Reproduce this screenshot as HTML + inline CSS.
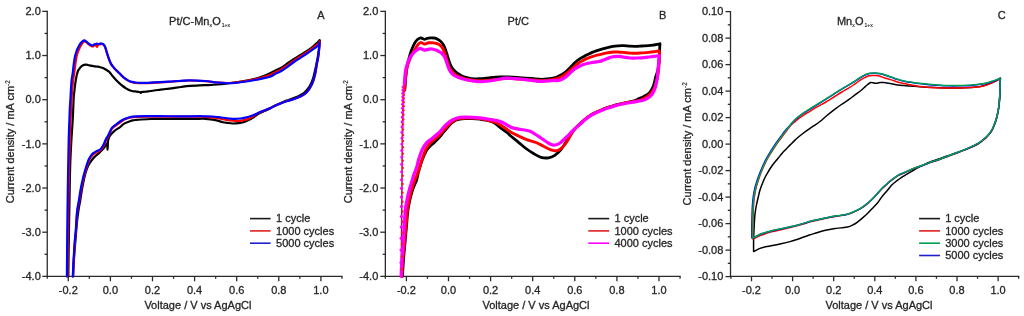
<!DOCTYPE html>
<html><head><meta charset="utf-8"><style>
html,body{margin:0;padding:0;background:#fff;}
body{width:1024px;height:316px;overflow:hidden;}
svg{display:block;will-change:transform;}
.t{font-family:"Liberation Sans", sans-serif;font-size:11px;fill:#262626;stroke:#262626;stroke-width:0.3px;}
.s{font-family:"Liberation Sans", sans-serif;font-size:6.5px;fill:#262626;stroke:#262626;stroke-width:0.15px;}
.u{font-family:"Liberation Sans", sans-serif;font-size:5px;fill:#262626;stroke:#262626;stroke-width:0.15px;}
</style></head><body>
<svg width="1024" height="316" viewBox="0 0 1024 316">
<line x1="47.25" y1="10.76" x2="47.25" y2="276.90" stroke="#2b2b2b" stroke-width="1.3"/>
<line x1="46.65" y1="276.3" x2="342.55" y2="276.3" stroke="#2b2b2b" stroke-width="1.3"/>
<line x1="42.25" y1="11.36" x2="47.25" y2="11.36" stroke="#2b2b2b" stroke-width="1.3"/>
<line x1="42.25" y1="55.53" x2="47.25" y2="55.53" stroke="#2b2b2b" stroke-width="1.3"/>
<line x1="42.25" y1="99.7" x2="47.25" y2="99.7" stroke="#2b2b2b" stroke-width="1.3"/>
<line x1="42.25" y1="143.87" x2="47.25" y2="143.87" stroke="#2b2b2b" stroke-width="1.3"/>
<line x1="42.25" y1="188.04" x2="47.25" y2="188.04" stroke="#2b2b2b" stroke-width="1.3"/>
<line x1="42.25" y1="232.21" x2="47.25" y2="232.21" stroke="#2b2b2b" stroke-width="1.3"/>
<line x1="42.25" y1="276.38" x2="47.25" y2="276.38" stroke="#2b2b2b" stroke-width="1.3"/>
<line x1="44.55" y1="33.45" x2="47.25" y2="33.45" stroke="#2b2b2b" stroke-width="1.3"/>
<line x1="44.55" y1="77.62" x2="47.25" y2="77.62" stroke="#2b2b2b" stroke-width="1.3"/>
<line x1="44.55" y1="121.78" x2="47.25" y2="121.78" stroke="#2b2b2b" stroke-width="1.3"/>
<line x1="44.55" y1="165.95" x2="47.25" y2="165.95" stroke="#2b2b2b" stroke-width="1.3"/>
<line x1="44.55" y1="210.12" x2="47.25" y2="210.12" stroke="#2b2b2b" stroke-width="1.3"/>
<line x1="44.55" y1="254.3" x2="47.25" y2="254.3" stroke="#2b2b2b" stroke-width="1.3"/>
<line x1="68.3" y1="276.3" x2="68.3" y2="281.30" stroke="#2b2b2b" stroke-width="1.3"/>
<line x1="110.4" y1="276.3" x2="110.4" y2="281.30" stroke="#2b2b2b" stroke-width="1.3"/>
<line x1="152.5" y1="276.3" x2="152.5" y2="281.30" stroke="#2b2b2b" stroke-width="1.3"/>
<line x1="194.6" y1="276.3" x2="194.6" y2="281.30" stroke="#2b2b2b" stroke-width="1.3"/>
<line x1="236.7" y1="276.3" x2="236.7" y2="281.30" stroke="#2b2b2b" stroke-width="1.3"/>
<line x1="278.8" y1="276.3" x2="278.8" y2="281.30" stroke="#2b2b2b" stroke-width="1.3"/>
<line x1="320.9" y1="276.3" x2="320.9" y2="281.30" stroke="#2b2b2b" stroke-width="1.3"/>
<line x1="47.25" y1="276.3" x2="47.25" y2="278.80" stroke="#2b2b2b" stroke-width="1.3"/>
<line x1="89.35" y1="276.3" x2="89.35" y2="278.80" stroke="#2b2b2b" stroke-width="1.3"/>
<line x1="131.45" y1="276.3" x2="131.45" y2="278.80" stroke="#2b2b2b" stroke-width="1.3"/>
<line x1="173.55" y1="276.3" x2="173.55" y2="278.80" stroke="#2b2b2b" stroke-width="1.3"/>
<line x1="215.65" y1="276.3" x2="215.65" y2="278.80" stroke="#2b2b2b" stroke-width="1.3"/>
<line x1="257.75" y1="276.3" x2="257.75" y2="278.80" stroke="#2b2b2b" stroke-width="1.3"/>
<line x1="299.85" y1="276.3" x2="299.85" y2="278.80" stroke="#2b2b2b" stroke-width="1.3"/>
<line x1="341.95" y1="276.3" x2="341.95" y2="278.80" stroke="#2b2b2b" stroke-width="1.3"/>
<text x="40.8" y="15.06" text-anchor="end" class="t">2.0</text>
<text x="40.8" y="59.23" text-anchor="end" class="t">1.0</text>
<text x="40.8" y="103.40" text-anchor="end" class="t">0.0</text>
<text x="40.8" y="147.57" text-anchor="end" class="t">-1.0</text>
<text x="40.8" y="191.74" text-anchor="end" class="t">-2.0</text>
<text x="40.8" y="235.91" text-anchor="end" class="t">-3.0</text>
<text x="40.8" y="280.08" text-anchor="end" class="t">-4.0</text>
<text x="68.30" y="293.6" text-anchor="middle" class="t">-0.2</text>
<text x="110.40" y="293.6" text-anchor="middle" class="t">0.0</text>
<text x="152.50" y="293.6" text-anchor="middle" class="t">0.2</text>
<text x="194.60" y="293.6" text-anchor="middle" class="t">0.4</text>
<text x="236.70" y="293.6" text-anchor="middle" class="t">0.6</text>
<text x="278.80" y="293.6" text-anchor="middle" class="t">0.8</text>
<text x="320.90" y="293.6" text-anchor="middle" class="t">1.0</text>
<line x1="385.35" y1="10.76" x2="385.35" y2="276.90" stroke="#2b2b2b" stroke-width="1.3"/>
<line x1="384.75" y1="276.3" x2="680.65" y2="276.3" stroke="#2b2b2b" stroke-width="1.3"/>
<line x1="380.35" y1="11.36" x2="385.35" y2="11.36" stroke="#2b2b2b" stroke-width="1.3"/>
<line x1="380.35" y1="55.53" x2="385.35" y2="55.53" stroke="#2b2b2b" stroke-width="1.3"/>
<line x1="380.35" y1="99.7" x2="385.35" y2="99.7" stroke="#2b2b2b" stroke-width="1.3"/>
<line x1="380.35" y1="143.87" x2="385.35" y2="143.87" stroke="#2b2b2b" stroke-width="1.3"/>
<line x1="380.35" y1="188.04" x2="385.35" y2="188.04" stroke="#2b2b2b" stroke-width="1.3"/>
<line x1="380.35" y1="232.21" x2="385.35" y2="232.21" stroke="#2b2b2b" stroke-width="1.3"/>
<line x1="380.35" y1="276.38" x2="385.35" y2="276.38" stroke="#2b2b2b" stroke-width="1.3"/>
<line x1="382.65" y1="33.45" x2="385.35" y2="33.45" stroke="#2b2b2b" stroke-width="1.3"/>
<line x1="382.65" y1="77.62" x2="385.35" y2="77.62" stroke="#2b2b2b" stroke-width="1.3"/>
<line x1="382.65" y1="121.78" x2="385.35" y2="121.78" stroke="#2b2b2b" stroke-width="1.3"/>
<line x1="382.65" y1="165.95" x2="385.35" y2="165.95" stroke="#2b2b2b" stroke-width="1.3"/>
<line x1="382.65" y1="210.12" x2="385.35" y2="210.12" stroke="#2b2b2b" stroke-width="1.3"/>
<line x1="382.65" y1="254.3" x2="385.35" y2="254.3" stroke="#2b2b2b" stroke-width="1.3"/>
<line x1="406.4" y1="276.3" x2="406.4" y2="281.30" stroke="#2b2b2b" stroke-width="1.3"/>
<line x1="448.5" y1="276.3" x2="448.5" y2="281.30" stroke="#2b2b2b" stroke-width="1.3"/>
<line x1="490.6" y1="276.3" x2="490.6" y2="281.30" stroke="#2b2b2b" stroke-width="1.3"/>
<line x1="532.7" y1="276.3" x2="532.7" y2="281.30" stroke="#2b2b2b" stroke-width="1.3"/>
<line x1="574.8" y1="276.3" x2="574.8" y2="281.30" stroke="#2b2b2b" stroke-width="1.3"/>
<line x1="616.9" y1="276.3" x2="616.9" y2="281.30" stroke="#2b2b2b" stroke-width="1.3"/>
<line x1="659.0" y1="276.3" x2="659.0" y2="281.30" stroke="#2b2b2b" stroke-width="1.3"/>
<line x1="385.35" y1="276.3" x2="385.35" y2="278.80" stroke="#2b2b2b" stroke-width="1.3"/>
<line x1="427.45" y1="276.3" x2="427.45" y2="278.80" stroke="#2b2b2b" stroke-width="1.3"/>
<line x1="469.55" y1="276.3" x2="469.55" y2="278.80" stroke="#2b2b2b" stroke-width="1.3"/>
<line x1="511.65" y1="276.3" x2="511.65" y2="278.80" stroke="#2b2b2b" stroke-width="1.3"/>
<line x1="553.75" y1="276.3" x2="553.75" y2="278.80" stroke="#2b2b2b" stroke-width="1.3"/>
<line x1="595.85" y1="276.3" x2="595.85" y2="278.80" stroke="#2b2b2b" stroke-width="1.3"/>
<line x1="637.95" y1="276.3" x2="637.95" y2="278.80" stroke="#2b2b2b" stroke-width="1.3"/>
<line x1="680.05" y1="276.3" x2="680.05" y2="278.80" stroke="#2b2b2b" stroke-width="1.3"/>
<text x="378.3" y="15.06" text-anchor="end" class="t">2.0</text>
<text x="378.3" y="59.23" text-anchor="end" class="t">1.0</text>
<text x="378.3" y="103.40" text-anchor="end" class="t">0.0</text>
<text x="378.3" y="147.57" text-anchor="end" class="t">-1.0</text>
<text x="378.3" y="191.74" text-anchor="end" class="t">-2.0</text>
<text x="378.3" y="235.91" text-anchor="end" class="t">-3.0</text>
<text x="378.3" y="280.08" text-anchor="end" class="t">-4.0</text>
<text x="406.40" y="293.6" text-anchor="middle" class="t">-0.2</text>
<text x="448.50" y="293.6" text-anchor="middle" class="t">0.0</text>
<text x="490.60" y="293.6" text-anchor="middle" class="t">0.2</text>
<text x="532.70" y="293.6" text-anchor="middle" class="t">0.4</text>
<text x="574.80" y="293.6" text-anchor="middle" class="t">0.6</text>
<text x="616.90" y="293.6" text-anchor="middle" class="t">0.8</text>
<text x="659.00" y="293.6" text-anchor="middle" class="t">1.0</text>
<line x1="730.5" y1="11.00" x2="730.5" y2="276.90" stroke="#2b2b2b" stroke-width="1.3"/>
<line x1="729.90" y1="276.3" x2="1019.25" y2="276.3" stroke="#2b2b2b" stroke-width="1.3"/>
<line x1="725.50" y1="11.6" x2="730.5" y2="11.6" stroke="#2b2b2b" stroke-width="1.3"/>
<line x1="725.50" y1="38.1" x2="730.5" y2="38.1" stroke="#2b2b2b" stroke-width="1.3"/>
<line x1="725.50" y1="64.6" x2="730.5" y2="64.6" stroke="#2b2b2b" stroke-width="1.3"/>
<line x1="725.50" y1="91.1" x2="730.5" y2="91.1" stroke="#2b2b2b" stroke-width="1.3"/>
<line x1="725.50" y1="117.6" x2="730.5" y2="117.6" stroke="#2b2b2b" stroke-width="1.3"/>
<line x1="725.50" y1="144.1" x2="730.5" y2="144.1" stroke="#2b2b2b" stroke-width="1.3"/>
<line x1="725.50" y1="170.6" x2="730.5" y2="170.6" stroke="#2b2b2b" stroke-width="1.3"/>
<line x1="725.50" y1="197.1" x2="730.5" y2="197.1" stroke="#2b2b2b" stroke-width="1.3"/>
<line x1="725.50" y1="223.6" x2="730.5" y2="223.6" stroke="#2b2b2b" stroke-width="1.3"/>
<line x1="725.50" y1="250.1" x2="730.5" y2="250.1" stroke="#2b2b2b" stroke-width="1.3"/>
<line x1="725.50" y1="276.6" x2="730.5" y2="276.6" stroke="#2b2b2b" stroke-width="1.3"/>
<line x1="727.80" y1="24.85" x2="730.5" y2="24.85" stroke="#2b2b2b" stroke-width="1.3"/>
<line x1="727.80" y1="51.35" x2="730.5" y2="51.35" stroke="#2b2b2b" stroke-width="1.3"/>
<line x1="727.80" y1="77.85" x2="730.5" y2="77.85" stroke="#2b2b2b" stroke-width="1.3"/>
<line x1="727.80" y1="104.35" x2="730.5" y2="104.35" stroke="#2b2b2b" stroke-width="1.3"/>
<line x1="727.80" y1="130.85" x2="730.5" y2="130.85" stroke="#2b2b2b" stroke-width="1.3"/>
<line x1="727.80" y1="157.35" x2="730.5" y2="157.35" stroke="#2b2b2b" stroke-width="1.3"/>
<line x1="727.80" y1="183.85" x2="730.5" y2="183.85" stroke="#2b2b2b" stroke-width="1.3"/>
<line x1="727.80" y1="210.35" x2="730.5" y2="210.35" stroke="#2b2b2b" stroke-width="1.3"/>
<line x1="727.80" y1="236.85" x2="730.5" y2="236.85" stroke="#2b2b2b" stroke-width="1.3"/>
<line x1="727.80" y1="263.35" x2="730.5" y2="263.35" stroke="#2b2b2b" stroke-width="1.3"/>
<line x1="751.5" y1="276.3" x2="751.5" y2="281.30" stroke="#2b2b2b" stroke-width="1.3"/>
<line x1="792.6" y1="276.3" x2="792.6" y2="281.30" stroke="#2b2b2b" stroke-width="1.3"/>
<line x1="833.7" y1="276.3" x2="833.7" y2="281.30" stroke="#2b2b2b" stroke-width="1.3"/>
<line x1="874.8" y1="276.3" x2="874.8" y2="281.30" stroke="#2b2b2b" stroke-width="1.3"/>
<line x1="915.9" y1="276.3" x2="915.9" y2="281.30" stroke="#2b2b2b" stroke-width="1.3"/>
<line x1="957.0" y1="276.3" x2="957.0" y2="281.30" stroke="#2b2b2b" stroke-width="1.3"/>
<line x1="998.1" y1="276.3" x2="998.1" y2="281.30" stroke="#2b2b2b" stroke-width="1.3"/>
<line x1="730.95" y1="276.3" x2="730.95" y2="278.80" stroke="#2b2b2b" stroke-width="1.3"/>
<line x1="772.05" y1="276.3" x2="772.05" y2="278.80" stroke="#2b2b2b" stroke-width="1.3"/>
<line x1="813.15" y1="276.3" x2="813.15" y2="278.80" stroke="#2b2b2b" stroke-width="1.3"/>
<line x1="854.25" y1="276.3" x2="854.25" y2="278.80" stroke="#2b2b2b" stroke-width="1.3"/>
<line x1="895.35" y1="276.3" x2="895.35" y2="278.80" stroke="#2b2b2b" stroke-width="1.3"/>
<line x1="936.45" y1="276.3" x2="936.45" y2="278.80" stroke="#2b2b2b" stroke-width="1.3"/>
<line x1="977.55" y1="276.3" x2="977.55" y2="278.80" stroke="#2b2b2b" stroke-width="1.3"/>
<line x1="1018.65" y1="276.3" x2="1018.65" y2="278.80" stroke="#2b2b2b" stroke-width="1.3"/>
<text x="723.3" y="15.30" text-anchor="end" class="t">0.10</text>
<text x="723.3" y="41.80" text-anchor="end" class="t">0.08</text>
<text x="723.3" y="68.30" text-anchor="end" class="t">0.06</text>
<text x="723.3" y="94.80" text-anchor="end" class="t">0.04</text>
<text x="723.3" y="121.30" text-anchor="end" class="t">0.02</text>
<text x="723.3" y="147.80" text-anchor="end" class="t">0.00</text>
<text x="723.3" y="174.30" text-anchor="end" class="t">-0.02</text>
<text x="723.3" y="200.80" text-anchor="end" class="t">-0.04</text>
<text x="723.3" y="227.30" text-anchor="end" class="t">-0.06</text>
<text x="723.3" y="253.80" text-anchor="end" class="t">-0.08</text>
<text x="723.3" y="280.30" text-anchor="end" class="t">-0.10</text>
<text x="751.50" y="293.6" text-anchor="middle" class="t">-0.2</text>
<text x="792.60" y="293.6" text-anchor="middle" class="t">0.0</text>
<text x="833.70" y="293.6" text-anchor="middle" class="t">0.2</text>
<text x="874.80" y="293.6" text-anchor="middle" class="t">0.4</text>
<text x="915.90" y="293.6" text-anchor="middle" class="t">0.6</text>
<text x="957.00" y="293.6" text-anchor="middle" class="t">0.8</text>
<text x="998.10" y="293.6" text-anchor="middle" class="t">1.0</text>
<path d="M68.30,276.40 C68.38,270.33 68.60,252.73 68.80,240.00 C69.00,227.27 69.27,212.50 69.50,200.00 C69.73,187.50 69.88,175.00 70.20,165.00 C70.52,155.00 70.98,147.50 71.40,140.00 C71.82,132.50 72.32,127.00 72.70,120.00 C73.08,113.00 73.40,103.00 73.70,98.00 C74.00,93.00 74.23,92.45 74.50,90.00 C74.77,87.55 75.02,85.30 75.30,83.30 C75.58,81.30 75.93,79.47 76.20,78.00 C76.47,76.53 76.58,75.72 76.90,74.50 C77.22,73.28 77.68,71.65 78.10,70.70 C78.52,69.75 79.00,69.37 79.40,68.80 C79.80,68.23 79.97,67.83 80.50,67.30 C81.03,66.77 81.73,66.05 82.60,65.60 C83.47,65.15 84.80,64.70 85.70,64.60 C86.60,64.50 87.15,64.83 88.00,65.00 C88.85,65.17 89.70,65.37 90.80,65.60 C91.90,65.83 93.40,66.23 94.60,66.40 C95.80,66.57 97.18,66.50 98.00,66.60 C98.82,66.70 98.67,66.77 99.50,67.00 C100.33,67.23 101.96,67.58 103.00,68.00 C104.04,68.42 104.75,68.90 105.75,69.50 C106.75,70.10 108.29,71.07 109.00,71.60 C109.71,72.13 109.33,71.88 110.00,72.70 C110.67,73.52 111.95,75.23 113.00,76.50 C114.05,77.77 115.22,79.15 116.30,80.30 C117.38,81.45 118.43,82.45 119.50,83.40 C120.57,84.35 121.62,85.18 122.70,86.00 C123.78,86.82 124.95,87.62 126.00,88.30 C127.05,88.98 128.00,89.65 129.00,90.10 C130.00,90.55 130.95,90.78 132.00,91.00 C133.05,91.22 134.30,91.27 135.30,91.40 C136.30,91.53 137.15,91.65 138.00,91.80 C138.85,91.95 139.90,92.10 140.40,92.30 C140.90,92.50 140.82,93.05 141.00,93.00 C141.18,92.95 141.00,92.20 141.50,92.00 C142.00,91.80 142.92,91.90 144.00,91.80 C145.08,91.70 146.33,91.62 148.00,91.40 C149.67,91.18 151.90,90.78 154.00,90.50 C156.10,90.22 158.43,89.97 160.60,89.70 C162.77,89.43 164.88,89.17 167.00,88.90 C169.12,88.63 170.97,88.42 173.30,88.10 C175.63,87.78 178.22,87.37 181.00,87.00 C183.78,86.63 186.00,86.20 190.00,85.90 C194.00,85.60 200.42,85.43 205.00,85.20 C209.58,84.97 213.33,84.87 217.50,84.50 C221.67,84.13 225.83,83.54 230.00,83.00 C234.17,82.46 238.33,81.96 242.50,81.25 C246.67,80.54 251.58,79.58 255.00,78.75 C258.42,77.92 260.50,77.16 263.00,76.25 C265.50,75.34 267.92,74.26 270.00,73.30 C272.08,72.34 273.60,71.45 275.50,70.50 C277.40,69.55 279.32,68.85 281.40,67.60 C283.48,66.35 285.90,64.43 288.00,63.00 C290.10,61.57 291.92,60.33 294.00,59.00 C296.08,57.67 298.33,56.37 300.50,55.00 C302.67,53.63 304.92,52.22 307.00,50.80 C309.08,49.38 311.33,47.80 313.00,46.50 C314.67,45.20 315.88,44.05 317.00,43.00 C318.12,41.95 319.27,40.28 319.70,40.20 C320.13,40.12 319.75,40.87 319.60,42.50 C319.45,44.13 319.10,47.58 318.80,50.00 C318.50,52.42 318.17,54.83 317.80,57.00 C317.43,59.17 316.97,61.17 316.60,63.00 C316.23,64.83 315.97,66.33 315.60,68.00 C315.23,69.67 314.83,71.22 314.40,73.00 C313.97,74.78 313.52,77.03 313.00,78.70 C312.48,80.37 311.88,81.70 311.30,83.00 C310.72,84.30 310.13,85.47 309.50,86.50 C308.87,87.53 308.22,88.32 307.50,89.20 C306.78,90.08 306.03,91.00 305.20,91.80 C304.37,92.60 303.53,93.32 302.50,94.00 C301.47,94.68 300.25,95.30 299.00,95.90 C297.75,96.50 296.33,97.08 295.00,97.60 C293.67,98.12 292.42,98.50 291.00,99.00 C289.58,99.50 288.00,100.03 286.50,100.60 C285.00,101.17 283.42,101.80 282.00,102.40 C280.58,103.00 279.33,103.55 278.00,104.20 C276.67,104.85 275.33,105.58 274.00,106.30 C272.67,107.02 271.50,107.75 270.00,108.50 C268.50,109.25 266.67,110.05 265.00,110.80 C263.33,111.55 261.50,112.22 260.00,113.00 C258.50,113.78 257.13,114.75 256.00,115.50 C254.87,116.25 254.52,116.70 253.20,117.50 C251.88,118.30 249.63,119.55 248.10,120.30 C246.57,121.05 245.27,121.58 244.00,122.00 C242.73,122.42 241.83,122.57 240.50,122.80 C239.17,123.03 237.27,123.28 236.00,123.40 C234.73,123.52 234.23,123.57 232.90,123.50 C231.57,123.43 229.68,123.22 228.00,123.00 C226.32,122.78 224.55,122.60 222.80,122.20 C221.05,121.80 219.18,121.02 217.50,120.60 C215.82,120.18 214.78,120.00 212.70,119.70 C210.62,119.40 207.12,118.95 205.00,118.80 C202.88,118.65 202.50,118.80 200.00,118.80 C197.50,118.80 194.00,118.78 190.00,118.80 C186.00,118.82 181.18,118.88 176.00,118.90 C170.82,118.92 163.07,118.88 158.90,118.90 C154.73,118.92 153.92,118.90 151.00,119.00 C148.08,119.10 143.90,119.35 141.40,119.50 C138.90,119.65 137.47,119.75 136.00,119.90 C134.53,120.05 133.93,120.05 132.60,120.40 C131.27,120.75 129.47,121.42 128.00,122.00 C126.53,122.58 125.13,123.05 123.80,123.90 C122.47,124.75 121.58,125.90 120.00,127.10 C118.42,128.30 115.97,129.70 114.30,131.10 C112.63,132.50 111.00,134.10 110.00,135.50 C109.00,136.90 108.65,138.25 108.30,139.50 C107.95,140.75 108.02,141.33 107.90,143.00 C107.78,144.67 107.73,149.42 107.60,149.50 C107.47,149.58 107.43,144.17 107.10,143.50 C106.77,142.83 106.18,144.68 105.60,145.50 C105.02,146.32 104.37,147.48 103.60,148.40 C102.83,149.32 101.78,150.20 101.00,151.00 C100.22,151.80 99.65,152.50 98.90,153.20 C98.15,153.90 97.28,154.53 96.50,155.20 C95.72,155.87 95.03,156.32 94.20,157.20 C93.37,158.08 92.28,159.45 91.50,160.50 C90.72,161.55 90.12,162.48 89.50,163.50 C88.88,164.52 88.38,165.27 87.80,166.60 C87.22,167.93 86.55,169.77 86.00,171.50 C85.45,173.23 85.00,174.92 84.50,177.00 C84.00,179.08 83.47,181.67 83.00,184.00 C82.53,186.33 82.15,188.33 81.70,191.00 C81.25,193.67 80.83,196.83 80.30,200.00 C79.77,203.17 79.05,206.33 78.50,210.00 C77.95,213.67 77.45,217.67 77.00,222.00 C76.55,226.33 76.20,231.33 75.80,236.00 C75.40,240.67 74.95,245.50 74.60,250.00 C74.25,254.50 73.95,258.60 73.70,263.00 C73.45,267.40 73.20,274.17 73.10,276.40" fill="none" stroke="#000000" stroke-width="2.2" stroke-linejoin="round" stroke-linecap="round"/>
<path d="M67.50,276.40 C67.58,268.67 67.82,244.40 68.00,230.00 C68.18,215.60 68.30,205.00 68.60,190.00 C68.90,175.00 69.47,151.67 69.80,140.00 C70.13,128.33 70.30,126.67 70.60,120.00 C70.90,113.33 71.33,105.00 71.60,100.00 C71.87,95.00 71.93,93.33 72.20,90.00 C72.47,86.67 72.88,82.67 73.20,80.00 C73.52,77.33 73.80,76.17 74.10,74.00 C74.40,71.83 74.72,69.17 75.00,67.00 C75.28,64.83 75.50,62.92 75.80,61.00 C76.10,59.08 76.43,57.07 76.80,55.50 C77.17,53.93 77.58,52.75 78.00,51.60 C78.42,50.45 78.87,49.53 79.30,48.60 C79.73,47.67 80.08,46.90 80.60,46.00 C81.12,45.10 81.83,43.95 82.40,43.20 C82.97,42.45 83.40,41.70 84.00,41.50 C84.60,41.30 85.42,41.70 86.00,42.00 C86.58,42.30 87.00,42.88 87.50,43.30 C88.00,43.72 88.42,44.08 89.00,44.50 C89.58,44.92 90.37,45.47 91.00,45.80 C91.63,46.13 92.30,46.55 92.80,46.50 C93.30,46.45 93.47,45.65 94.00,45.50 C94.53,45.35 95.47,45.38 96.00,45.60 C96.53,45.82 96.87,46.97 97.20,46.80 C97.53,46.63 97.53,44.98 98.00,44.60 C98.47,44.22 99.42,44.60 100.00,44.50 C100.58,44.40 101.00,44.05 101.50,44.00 C102.00,43.95 102.53,43.93 103.00,44.20 C103.47,44.47 103.92,45.00 104.30,45.60 C104.68,46.20 104.97,46.90 105.30,47.80 C105.63,48.70 105.93,49.80 106.30,51.00 C106.67,52.20 107.07,53.67 107.50,55.00 C107.93,56.33 108.43,57.75 108.90,59.00 C109.37,60.25 109.83,61.47 110.30,62.50 C110.77,63.53 111.08,64.30 111.70,65.20 C112.32,66.10 113.20,67.00 114.00,67.90 C114.80,68.80 115.65,69.75 116.50,70.60 C117.35,71.45 118.25,72.17 119.10,73.00 C119.95,73.83 120.77,74.77 121.60,75.60 C122.43,76.43 123.25,77.30 124.10,78.00 C124.95,78.70 125.85,79.27 126.70,79.80 C127.55,80.33 128.28,80.80 129.20,81.20 C130.12,81.60 131.15,81.93 132.20,82.20 C133.25,82.47 134.03,82.65 135.50,82.80 C136.97,82.95 138.92,83.05 141.00,83.10 C143.08,83.15 144.73,83.22 148.00,83.10 C151.27,82.98 156.38,82.67 160.60,82.40 C164.82,82.13 169.90,81.73 173.30,81.50 C176.70,81.27 178.22,81.17 181.00,81.00 C183.78,80.83 186.00,80.47 190.00,80.50 C194.00,80.53 200.42,80.87 205.00,81.20 C209.58,81.53 213.33,82.20 217.50,82.50 C221.67,82.80 225.83,83.15 230.00,83.00 C234.17,82.85 238.33,82.22 242.50,81.60 C246.67,80.98 251.58,80.03 255.00,79.30 C258.42,78.57 260.50,77.92 263.00,77.20 C265.50,76.48 267.92,75.83 270.00,75.00 C272.08,74.17 273.60,73.12 275.50,72.20 C277.40,71.28 279.32,70.73 281.40,69.50 C283.48,68.27 285.90,66.28 288.00,64.80 C290.10,63.32 291.92,62.00 294.00,60.60 C296.08,59.20 298.33,57.80 300.50,56.40 C302.67,55.00 304.92,53.62 307.00,52.20 C309.08,50.78 311.42,49.07 313.00,47.90 C314.58,46.73 315.53,45.97 316.50,45.20 C317.47,44.43 318.28,43.92 318.80,43.30 C319.32,42.68 319.48,41.22 319.60,41.50 C319.72,41.78 319.60,43.42 319.50,45.00 C319.40,46.58 319.23,48.83 319.00,51.00 C318.77,53.17 318.42,56.00 318.10,58.00 C317.78,60.00 317.40,61.38 317.10,63.00 C316.80,64.62 316.58,66.03 316.30,67.70 C316.02,69.37 315.78,71.17 315.40,73.00 C315.02,74.83 314.48,77.03 314.00,78.70 C313.52,80.37 313.03,81.68 312.50,83.00 C311.97,84.32 311.40,85.48 310.80,86.60 C310.20,87.72 309.57,88.78 308.90,89.70 C308.23,90.62 307.65,91.30 306.80,92.10 C305.95,92.90 304.85,93.78 303.80,94.50 C302.75,95.22 301.70,95.82 300.50,96.40 C299.30,96.98 297.92,97.48 296.60,98.00 C295.28,98.52 294.03,99.03 292.60,99.50 C291.17,99.97 289.60,100.32 288.00,100.80 C286.40,101.28 284.42,101.88 283.00,102.40 C281.58,102.92 281.00,103.28 279.50,103.90 C278.00,104.52 275.58,105.38 274.00,106.10 C272.42,106.82 271.78,107.38 270.00,108.20 C268.22,109.02 265.30,110.13 263.30,111.00 C261.30,111.87 259.68,112.52 258.00,113.40 C256.32,114.28 254.43,115.57 253.20,116.30 C251.97,117.03 251.63,117.28 250.60,117.80 C249.57,118.32 248.27,118.98 247.00,119.40 C245.73,119.82 244.33,120.05 243.00,120.30 C241.67,120.55 240.27,120.78 239.00,120.90 C237.73,121.02 236.90,121.07 235.40,121.00 C233.90,120.93 231.68,120.72 230.00,120.50 C228.32,120.28 227.13,120.07 225.30,119.70 C223.47,119.33 221.10,118.67 219.00,118.30 C216.90,117.93 215.03,117.75 212.70,117.50 C210.37,117.25 208.78,116.93 205.00,116.80 C201.22,116.67 194.83,116.72 190.00,116.70 C185.17,116.68 181.00,116.72 176.00,116.70 C171.00,116.68 165.00,116.62 160.00,116.60 C155.00,116.58 149.83,116.57 146.00,116.60 C142.17,116.63 139.23,116.72 137.00,116.80 C134.77,116.88 134.10,116.88 132.60,117.10 C131.10,117.32 129.47,117.65 128.00,118.10 C126.53,118.55 125.13,119.05 123.80,119.80 C122.47,120.55 121.30,121.65 120.00,122.60 C118.70,123.55 117.35,124.47 116.00,125.50 C114.65,126.53 113.13,127.12 111.90,128.80 C110.67,130.48 109.53,133.77 108.60,135.60 C107.67,137.43 107.08,138.20 106.30,139.80 C105.52,141.40 104.82,143.52 103.90,145.20 C102.98,146.88 101.73,148.87 100.80,149.90 C99.87,150.93 99.10,150.97 98.30,151.40 C97.50,151.83 96.80,152.03 96.00,152.50 C95.20,152.97 94.28,153.52 93.50,154.20 C92.72,154.88 91.97,155.70 91.30,156.60 C90.63,157.50 90.03,158.55 89.50,159.60 C88.97,160.65 88.67,161.33 88.10,162.90 C87.53,164.47 86.75,166.88 86.10,169.00 C85.45,171.12 84.73,173.60 84.20,175.60 C83.67,177.60 83.30,179.27 82.90,181.00 C82.50,182.73 82.20,184.00 81.80,186.00 C81.40,188.00 80.92,190.58 80.50,193.00 C80.08,195.42 79.85,197.25 79.30,200.50 C78.75,203.75 77.75,207.58 77.20,212.50 C76.65,217.42 76.40,224.83 76.00,230.00 C75.60,235.17 75.17,238.50 74.80,243.50 C74.43,248.50 74.10,254.52 73.80,260.00 C73.50,265.48 73.13,273.67 73.00,276.40" fill="none" stroke="#ff0000" stroke-width="2.2" stroke-linejoin="round" stroke-linecap="round"/>
<path d="M66.90,276.40 C66.97,268.67 67.15,244.40 67.30,230.00 C67.45,215.60 67.57,205.00 67.80,190.00 C68.03,175.00 68.43,151.67 68.70,140.00 C68.97,128.33 69.22,125.17 69.40,120.00 C69.58,114.83 69.62,112.67 69.80,109.00 C69.98,105.33 70.32,101.17 70.50,98.00 C70.68,94.83 70.72,93.00 70.90,90.00 C71.08,87.00 71.32,82.67 71.60,80.00 C71.88,77.33 72.30,76.17 72.60,74.00 C72.90,71.83 73.13,69.17 73.40,67.00 C73.67,64.83 73.90,62.92 74.20,61.00 C74.50,59.08 74.83,57.08 75.20,55.50 C75.57,53.92 76.00,52.65 76.40,51.50 C76.80,50.35 77.17,49.55 77.60,48.60 C78.03,47.65 78.43,46.77 79.00,45.80 C79.57,44.83 80.33,43.63 81.00,42.80 C81.67,41.97 82.42,41.22 83.00,40.80 C83.58,40.38 84.00,40.22 84.50,40.30 C85.00,40.38 85.55,40.97 86.00,41.30 C86.45,41.63 86.70,41.88 87.20,42.30 C87.70,42.72 88.37,43.35 89.00,43.80 C89.63,44.25 90.42,44.72 91.00,45.00 C91.58,45.28 92.00,45.60 92.50,45.50 C93.00,45.40 93.42,44.65 94.00,44.40 C94.58,44.15 95.50,44.13 96.00,44.00 C96.50,43.87 96.58,43.57 97.00,43.60 C97.42,43.63 98.00,44.20 98.50,44.20 C99.00,44.20 99.50,43.72 100.00,43.60 C100.50,43.48 101.00,43.43 101.50,43.50 C102.00,43.57 102.58,43.75 103.00,44.00 C103.42,44.25 103.67,44.58 104.00,45.00 C104.33,45.42 104.67,45.75 105.00,46.50 C105.33,47.25 105.63,48.33 106.00,49.50 C106.37,50.67 106.77,52.12 107.20,53.50 C107.63,54.88 108.13,56.47 108.60,57.80 C109.07,59.13 109.53,60.40 110.00,61.50 C110.47,62.60 110.77,63.38 111.40,64.40 C112.03,65.42 112.98,66.62 113.80,67.60 C114.62,68.58 115.45,69.45 116.30,70.30 C117.15,71.15 118.05,71.87 118.90,72.70 C119.75,73.53 120.57,74.47 121.40,75.30 C122.23,76.13 123.05,77.00 123.90,77.70 C124.75,78.40 125.65,78.97 126.50,79.50 C127.35,80.03 128.08,80.50 129.00,80.90 C129.92,81.30 130.95,81.63 132.00,81.90 C133.05,82.17 133.80,82.35 135.30,82.50 C136.80,82.65 138.88,82.75 141.00,82.80 C143.12,82.85 144.73,82.90 148.00,82.80 C151.27,82.70 156.38,82.45 160.60,82.20 C164.82,81.95 169.90,81.53 173.30,81.30 C176.70,81.07 178.22,80.97 181.00,80.80 C183.78,80.63 186.00,80.27 190.00,80.30 C194.00,80.33 200.42,80.63 205.00,81.00 C209.58,81.37 213.33,82.12 217.50,82.50 C221.67,82.88 225.83,83.33 230.00,83.25 C234.17,83.17 238.33,82.54 242.50,82.00 C246.67,81.46 251.58,80.62 255.00,80.00 C258.42,79.38 260.50,78.83 263.00,78.30 C265.50,77.77 267.92,77.55 270.00,76.80 C272.08,76.05 273.60,74.77 275.50,73.80 C277.40,72.83 279.32,72.22 281.40,71.00 C283.48,69.78 285.90,68.00 288.00,66.50 C290.10,65.00 291.92,63.45 294.00,62.00 C296.08,60.55 298.33,59.22 300.50,57.80 C302.67,56.38 304.92,54.92 307.00,53.50 C309.08,52.08 311.42,50.42 313.00,49.30 C314.58,48.18 315.53,47.55 316.50,46.80 C317.47,46.05 318.28,45.52 318.80,44.80 C319.32,44.08 319.50,42.30 319.60,42.50 C319.70,42.70 319.52,44.58 319.40,46.00 C319.28,47.42 319.13,49.00 318.90,51.00 C318.67,53.00 318.32,56.00 318.00,58.00 C317.68,60.00 317.30,61.38 317.00,63.00 C316.70,64.62 316.48,66.03 316.20,67.70 C315.92,69.37 315.68,71.17 315.30,73.00 C314.92,74.83 314.38,77.03 313.90,78.70 C313.42,80.37 312.93,81.68 312.40,83.00 C311.87,84.32 311.30,85.48 310.70,86.60 C310.10,87.72 309.47,88.77 308.80,89.70 C308.13,90.63 307.55,91.38 306.70,92.20 C305.85,93.02 304.75,93.88 303.70,94.60 C302.65,95.32 301.60,95.92 300.40,96.50 C299.20,97.08 297.82,97.58 296.50,98.10 C295.18,98.62 293.92,99.13 292.50,99.60 C291.08,100.07 289.58,100.42 288.00,100.90 C286.42,101.38 284.42,101.98 283.00,102.50 C281.58,103.02 281.00,103.38 279.50,104.00 C278.00,104.62 275.58,105.50 274.00,106.20 C272.42,106.90 271.78,107.43 270.00,108.20 C268.22,108.97 265.30,110.00 263.30,110.80 C261.30,111.60 259.68,112.25 258.00,113.00 C256.32,113.75 254.87,114.63 253.20,115.30 C251.53,115.97 249.48,116.58 248.00,117.00 C246.52,117.42 245.63,117.55 244.30,117.80 C242.97,118.05 241.48,118.33 240.00,118.50 C238.52,118.67 237.07,118.78 235.40,118.80 C233.73,118.82 231.68,118.73 230.00,118.60 C228.32,118.47 227.13,118.23 225.30,118.00 C223.47,117.77 221.10,117.45 219.00,117.20 C216.90,116.95 215.03,116.65 212.70,116.50 C210.37,116.35 207.12,116.35 205.00,116.30 C202.88,116.25 202.50,116.20 200.00,116.20 C197.50,116.20 194.00,116.28 190.00,116.30 C186.00,116.32 181.00,116.32 176.00,116.30 C171.00,116.28 165.00,116.22 160.00,116.20 C155.00,116.18 149.83,116.17 146.00,116.20 C142.17,116.23 139.23,116.32 137.00,116.40 C134.77,116.48 134.10,116.48 132.60,116.70 C131.10,116.92 129.47,117.27 128.00,117.70 C126.53,118.13 125.13,118.67 123.80,119.30 C122.47,119.93 121.30,120.63 120.00,121.50 C118.70,122.37 117.35,123.43 116.00,124.50 C114.65,125.57 113.17,126.15 111.90,127.90 C110.63,129.65 109.38,133.15 108.40,135.00 C107.42,136.85 106.80,137.42 106.00,139.00 C105.20,140.58 104.52,142.80 103.60,144.50 C102.68,146.20 101.43,148.18 100.50,149.20 C99.57,150.22 98.80,150.20 98.00,150.60 C97.20,151.00 96.50,151.17 95.70,151.60 C94.90,152.03 93.98,152.53 93.20,153.20 C92.42,153.87 91.67,154.70 91.00,155.60 C90.33,156.50 89.73,157.55 89.20,158.60 C88.67,159.65 88.37,160.33 87.80,161.90 C87.23,163.47 86.45,165.88 85.80,168.00 C85.15,170.12 84.43,172.60 83.90,174.60 C83.37,176.60 83.00,178.27 82.60,180.00 C82.20,181.73 81.90,183.00 81.50,185.00 C81.10,187.00 80.62,189.50 80.20,192.00 C79.78,194.50 79.53,196.67 79.00,200.00 C78.47,203.33 77.53,207.00 77.00,212.00 C76.47,217.00 76.20,224.78 75.80,230.00 C75.40,235.22 74.97,238.30 74.60,243.30 C74.23,248.30 73.90,254.48 73.60,260.00 C73.30,265.52 72.93,273.67 72.80,276.40" fill="none" stroke="#0000ff" stroke-width="2.2" stroke-linejoin="round" stroke-linecap="round"/>
<path d="M404.80,90.00 C404.95,88.00 405.42,81.33 405.70,78.00 C405.98,74.67 406.18,72.33 406.50,70.00 C406.82,67.67 407.25,65.67 407.60,64.00 C407.95,62.33 408.12,61.83 408.60,60.00 C409.08,58.17 409.80,55.17 410.50,53.00 C411.20,50.83 412.05,48.75 412.80,47.00 C413.55,45.25 414.22,43.75 415.00,42.50 C415.78,41.25 416.75,40.22 417.50,39.50 C418.25,38.78 418.88,38.45 419.50,38.20 C420.12,37.95 420.62,37.90 421.20,38.00 C421.78,38.10 422.43,38.58 423.00,38.80 C423.57,39.02 424.02,39.33 424.60,39.30 C425.18,39.27 425.85,38.78 426.50,38.60 C427.15,38.42 427.75,38.32 428.50,38.20 C429.25,38.08 430.25,37.93 431.00,37.90 C431.75,37.87 432.33,37.95 433.00,38.00 C433.67,38.05 434.17,37.95 435.00,38.20 C435.83,38.45 437.08,39.00 438.00,39.50 C438.92,40.00 439.67,40.42 440.50,41.20 C441.33,41.98 442.25,43.02 443.00,44.20 C443.75,45.38 444.40,46.83 445.00,48.30 C445.60,49.77 446.07,51.33 446.60,53.00 C447.13,54.67 447.63,56.50 448.20,58.30 C448.77,60.10 449.37,62.22 450.00,63.80 C450.63,65.38 451.17,66.55 452.00,67.80 C452.83,69.05 453.92,70.27 455.00,71.30 C456.08,72.33 457.25,73.18 458.50,74.00 C459.75,74.82 460.92,75.57 462.50,76.20 C464.08,76.83 466.08,77.37 468.00,77.80 C469.92,78.23 472.00,78.65 474.00,78.80 C476.00,78.95 477.50,78.87 480.00,78.70 C482.50,78.53 486.67,78.03 489.00,77.80 C491.33,77.57 492.17,77.47 494.00,77.30 C495.83,77.13 497.50,76.85 500.00,76.80 C502.50,76.75 505.83,76.87 509.00,77.00 C512.17,77.13 515.25,77.35 519.00,77.60 C522.75,77.85 527.75,78.22 531.50,78.50 C535.25,78.78 538.58,79.28 541.50,79.30 C544.42,79.32 547.08,78.82 549.00,78.60 C550.92,78.38 551.60,78.32 553.00,78.00 C554.40,77.68 555.90,77.28 557.40,76.70 C558.90,76.12 560.55,75.37 562.00,74.50 C563.45,73.63 564.68,72.72 566.10,71.50 C567.52,70.28 569.05,68.65 570.50,67.20 C571.95,65.75 573.38,64.12 574.80,62.80 C576.22,61.48 577.55,60.32 579.00,59.30 C580.45,58.28 582.00,57.52 583.50,56.70 C585.00,55.88 586.55,55.12 588.00,54.40 C589.45,53.68 590.70,53.03 592.20,52.40 C593.70,51.77 595.27,51.18 597.00,50.60 C598.73,50.02 600.77,49.42 602.60,48.90 C604.43,48.38 606.27,47.93 608.00,47.50 C609.73,47.07 611.33,46.58 613.00,46.30 C614.67,46.02 616.25,45.90 618.00,45.80 C619.75,45.70 621.50,45.63 623.50,45.70 C625.50,45.77 627.92,46.10 630.00,46.20 C632.08,46.30 634.00,46.33 636.00,46.30 C638.00,46.27 639.92,46.10 642.00,46.00 C644.08,45.90 646.50,45.87 648.50,45.70 C650.50,45.53 652.25,45.25 654.00,45.00 C655.75,44.75 658.00,44.40 659.00,44.20 C660.00,44.00 659.87,43.50 660.00,43.80 C660.13,44.10 659.88,44.13 659.80,46.00 C659.72,47.87 659.63,52.25 659.50,55.00 C659.37,57.75 659.28,60.00 659.00,62.50 C658.72,65.00 658.23,67.92 657.80,70.00 C657.37,72.08 656.77,73.80 656.40,75.00 C656.03,76.20 655.90,76.12 655.60,77.20 C655.30,78.28 655.00,79.93 654.60,81.50 C654.20,83.07 653.73,85.18 653.20,86.60 C652.67,88.02 652.07,88.93 651.40,90.00 C650.73,91.07 650.10,92.13 649.20,93.00 C648.30,93.87 647.05,94.55 646.00,95.20 C644.95,95.85 644.07,96.33 642.90,96.90 C641.73,97.47 640.32,98.00 639.00,98.60 C637.68,99.20 636.92,99.88 635.00,100.50 C633.08,101.12 630.17,101.68 627.50,102.30 C624.83,102.92 621.65,103.53 619.00,104.20 C616.35,104.87 613.93,105.60 611.60,106.30 C609.27,107.00 607.10,107.62 605.00,108.40 C602.90,109.18 600.83,110.20 599.00,111.00 C597.17,111.80 595.58,112.40 594.00,113.20 C592.42,114.00 591.00,114.80 589.50,115.80 C588.00,116.80 586.58,117.88 585.00,119.20 C583.42,120.52 581.92,121.82 580.00,123.70 C578.08,125.58 575.83,127.45 573.50,130.50 C571.17,133.55 568.08,138.83 566.00,142.00 C563.92,145.17 562.88,147.28 561.00,149.50 C559.12,151.72 556.83,153.92 554.75,155.30 C552.67,156.68 550.79,157.47 548.50,157.80 C546.21,158.13 543.50,158.02 541.00,157.30 C538.50,156.58 536.00,154.97 533.50,153.50 C531.00,152.03 528.50,150.37 526.00,148.50 C523.50,146.63 521.00,144.33 518.50,142.30 C516.00,140.27 512.92,137.93 511.00,136.30 C509.08,134.67 508.63,133.83 507.00,132.50 C505.37,131.17 503.35,129.92 501.20,128.30 C499.05,126.68 496.63,124.15 494.10,122.80 C491.57,121.45 488.37,120.80 486.00,120.20 C483.63,119.60 482.23,119.47 479.90,119.20 C477.57,118.93 474.38,118.70 472.00,118.60 C469.62,118.50 467.60,118.53 465.60,118.60 C463.60,118.67 461.67,118.72 460.00,119.00 C458.33,119.28 457.03,119.58 455.60,120.30 C454.17,121.02 452.75,122.10 451.40,123.30 C450.05,124.50 448.70,126.17 447.50,127.50 C446.30,128.83 445.45,129.80 444.20,131.30 C442.95,132.80 441.53,134.75 440.00,136.50 C438.47,138.25 436.50,140.33 435.00,141.80 C433.50,143.27 432.17,144.18 431.00,145.30 C429.83,146.42 428.92,147.33 428.00,148.50 C427.08,149.67 426.33,150.72 425.50,152.30 C424.67,153.88 423.83,155.88 423.00,158.00 C422.17,160.12 421.25,162.67 420.50,165.00 C419.75,167.33 419.15,169.50 418.50,172.00 C417.85,174.50 417.27,177.83 416.60,180.00 C415.93,182.17 415.23,183.17 414.50,185.00 C413.77,186.83 412.98,188.45 412.20,191.00 C411.42,193.55 410.53,196.90 409.80,200.30 C409.07,203.70 408.33,207.28 407.80,211.40 C407.27,215.52 407.02,220.23 406.60,225.00 C406.18,229.77 405.77,234.83 405.30,240.00 C404.83,245.17 404.28,249.93 403.80,256.00 C403.32,262.07 402.63,273.00 402.40,276.40" fill="none" stroke="#000000" stroke-width="2.8" stroke-linejoin="round" stroke-linecap="round"/>
<path d="M404.50,90.00 C404.63,88.33 405.02,82.83 405.30,80.00 C405.58,77.17 405.87,75.25 406.20,73.00 C406.53,70.75 406.83,68.42 407.30,66.50 C407.77,64.58 408.38,63.17 409.00,61.50 C409.62,59.83 410.25,58.12 411.00,56.50 C411.75,54.88 412.67,53.28 413.50,51.80 C414.33,50.32 415.17,48.90 416.00,47.60 C416.83,46.30 417.75,44.83 418.50,44.00 C419.25,43.17 419.87,42.77 420.50,42.60 C421.13,42.43 421.62,42.75 422.30,43.00 C422.98,43.25 423.87,44.05 424.60,44.10 C425.33,44.15 425.97,43.52 426.70,43.30 C427.43,43.08 428.28,42.90 429.00,42.80 C429.72,42.70 430.25,42.68 431.00,42.70 C431.75,42.72 432.67,42.78 433.50,42.90 C434.33,43.02 435.17,43.18 436.00,43.40 C436.83,43.62 437.67,43.77 438.50,44.20 C439.33,44.63 440.20,45.12 441.00,46.00 C441.80,46.88 442.57,48.00 443.30,49.50 C444.03,51.00 444.73,53.00 445.40,55.00 C446.07,57.00 446.65,59.45 447.30,61.50 C447.95,63.55 448.52,65.63 449.30,67.30 C450.08,68.97 451.05,70.33 452.00,71.50 C452.95,72.67 453.92,73.50 455.00,74.30 C456.08,75.10 457.25,75.72 458.50,76.30 C459.75,76.88 460.92,77.28 462.50,77.80 C464.08,78.32 466.08,78.97 468.00,79.40 C469.92,79.83 471.33,80.20 474.00,80.40 C476.67,80.60 480.67,80.70 484.00,80.60 C487.33,80.50 490.25,80.17 494.00,79.80 C497.75,79.43 503.50,78.62 506.50,78.40 C509.50,78.18 509.92,78.40 512.00,78.50 C514.08,78.60 515.75,78.77 519.00,79.00 C522.25,79.23 527.75,79.62 531.50,79.90 C535.25,80.18 538.92,80.62 541.50,80.70 C544.08,80.78 545.08,80.62 547.00,80.40 C548.92,80.18 551.27,79.75 553.00,79.40 C554.73,79.05 555.90,78.78 557.40,78.30 C558.90,77.82 560.55,77.30 562.00,76.50 C563.45,75.70 564.68,74.58 566.10,73.50 C567.52,72.42 569.05,71.20 570.50,70.00 C571.95,68.80 573.38,67.50 574.80,66.30 C576.22,65.10 577.55,63.82 579.00,62.80 C580.45,61.78 582.00,60.97 583.50,60.20 C585.00,59.43 586.55,58.78 588.00,58.20 C589.45,57.62 590.70,57.20 592.20,56.70 C593.70,56.20 595.27,55.68 597.00,55.20 C598.73,54.72 600.77,54.20 602.60,53.80 C604.43,53.40 606.27,53.10 608.00,52.80 C609.73,52.50 611.33,52.13 613.00,52.00 C614.67,51.87 616.25,51.93 618.00,52.00 C619.75,52.07 621.50,52.22 623.50,52.40 C625.50,52.58 627.92,52.95 630.00,53.10 C632.08,53.25 634.00,53.33 636.00,53.30 C638.00,53.27 639.92,53.05 642.00,52.90 C644.08,52.75 646.50,52.58 648.50,52.40 C650.50,52.22 652.25,52.03 654.00,51.80 C655.75,51.57 658.08,50.72 659.00,51.00 C659.92,51.28 659.47,51.67 659.50,53.50 C659.53,55.33 659.38,58.92 659.20,62.00 C659.02,65.08 658.73,69.33 658.40,72.00 C658.07,74.67 657.63,76.00 657.20,78.00 C656.77,80.00 656.33,82.25 655.80,84.00 C655.27,85.75 654.72,87.12 654.00,88.50 C653.28,89.88 652.42,91.13 651.50,92.30 C650.58,93.47 649.58,94.58 648.50,95.50 C647.42,96.42 646.33,97.02 645.00,97.80 C643.67,98.58 642.17,99.62 640.50,100.20 C638.83,100.78 637.17,100.92 635.00,101.30 C632.83,101.68 630.17,102.00 627.50,102.50 C624.83,103.00 621.65,103.65 619.00,104.30 C616.35,104.95 613.93,105.70 611.60,106.40 C609.27,107.10 607.10,107.72 605.00,108.50 C602.90,109.28 600.83,110.30 599.00,111.10 C597.17,111.90 595.58,112.50 594.00,113.30 C592.42,114.10 591.00,114.90 589.50,115.90 C588.00,116.90 586.58,117.98 585.00,119.30 C583.42,120.62 581.92,121.92 580.00,123.80 C578.08,125.68 575.62,127.70 573.50,130.60 C571.38,133.50 569.12,138.38 567.25,141.20 C565.38,144.02 563.92,145.93 562.25,147.50 C560.58,149.07 559.12,150.22 557.25,150.60 C555.38,150.98 553.29,150.53 551.00,149.80 C548.71,149.07 546.00,147.42 543.50,146.20 C541.00,144.98 538.92,143.65 536.00,142.50 C533.08,141.35 528.92,140.38 526.00,139.30 C523.08,138.22 521.00,137.17 518.50,136.00 C516.00,134.83 513.17,133.58 511.00,132.30 C508.83,131.02 507.33,129.55 505.50,128.30 C503.67,127.05 501.90,125.85 500.00,124.80 C498.10,123.75 496.43,122.83 494.10,122.00 C491.77,121.17 488.37,120.37 486.00,119.80 C483.63,119.23 482.23,118.88 479.90,118.60 C477.57,118.32 474.38,118.20 472.00,118.10 C469.62,118.00 467.60,117.95 465.60,118.00 C463.60,118.05 461.67,118.13 460.00,118.40 C458.33,118.67 457.03,118.95 455.60,119.60 C454.17,120.25 452.75,121.23 451.40,122.30 C450.05,123.37 448.82,124.63 447.50,126.00 C446.18,127.37 444.92,128.92 443.50,130.50 C442.08,132.08 440.58,133.95 439.00,135.50 C437.42,137.05 435.50,138.50 434.00,139.80 C432.50,141.10 431.25,141.93 430.00,143.30 C428.75,144.67 427.47,146.30 426.50,148.00 C425.53,149.70 425.03,151.33 424.20,153.50 C423.37,155.67 422.37,158.33 421.50,161.00 C420.63,163.67 420.10,166.33 419.00,169.50 C417.90,172.67 415.93,177.25 414.90,180.00 C413.87,182.75 413.48,183.83 412.80,186.00 C412.12,188.17 411.40,190.62 410.80,193.00 C410.20,195.38 409.77,197.47 409.20,200.30 C408.63,203.13 407.92,205.88 407.40,210.00 C406.88,214.12 406.62,219.17 406.10,225.00 C405.58,230.83 404.85,239.17 404.30,245.00 C403.75,250.83 403.22,254.77 402.80,260.00 C402.38,265.23 401.97,273.67 401.80,276.40" fill="none" stroke="#ff0000" stroke-width="2.9" stroke-linejoin="round" stroke-linecap="round"/>
<path d="M401.20,276.40 C401.25,270.33 401.40,252.73 401.50,240.00 C401.61,227.27 401.74,211.67 401.83,200.00 C401.93,188.33 402.00,180.00 402.08,170.00 C402.17,160.00 402.22,149.17 402.33,140.00 C402.45,130.83 402.63,122.00 402.77,115.00 C402.92,108.00 403.01,102.83 403.20,98.00 C403.39,93.17 403.78,88.00 403.90,86.00" fill="none" stroke="#b0104a" stroke-width="1.5" stroke-linejoin="round" stroke-linecap="round"/>
<path d="M404.30,84.00 C404.42,82.58 404.75,77.95 405.00,75.50 C405.25,73.05 405.42,71.22 405.80,69.30 C406.18,67.38 406.73,65.72 407.30,64.00 C407.87,62.28 408.55,60.37 409.20,59.00 C409.85,57.63 410.48,56.80 411.20,55.80 C411.92,54.80 412.70,53.83 413.50,53.00 C414.30,52.17 415.17,51.47 416.00,50.80 C416.83,50.13 417.75,49.40 418.50,49.00 C419.25,48.60 419.88,48.37 420.50,48.40 C421.12,48.43 421.52,48.92 422.20,49.20 C422.88,49.48 423.80,50.03 424.60,50.10 C425.40,50.17 425.95,49.82 427.00,49.60 C428.05,49.38 429.73,48.82 430.90,48.80 C432.07,48.78 433.07,49.25 434.00,49.50 C434.93,49.75 435.58,49.92 436.50,50.30 C437.42,50.68 438.53,51.22 439.50,51.80 C440.47,52.38 441.45,52.93 442.30,53.80 C443.15,54.67 443.93,55.77 444.60,57.00 C445.27,58.23 445.75,59.70 446.30,61.20 C446.85,62.70 447.35,64.48 447.90,66.00 C448.45,67.52 448.92,69.02 449.60,70.30 C450.28,71.58 451.10,72.75 452.00,73.70 C452.90,74.65 453.92,75.35 455.00,76.00 C456.08,76.65 457.25,77.13 458.50,77.60 C459.75,78.07 460.92,78.37 462.50,78.80 C464.08,79.23 466.08,79.80 468.00,80.20 C469.92,80.60 472.00,80.97 474.00,81.20 C476.00,81.43 478.33,81.55 480.00,81.60 C481.67,81.65 482.50,81.60 484.00,81.50 C485.50,81.40 487.33,81.22 489.00,81.00 C490.67,80.78 492.17,80.53 494.00,80.20 C495.83,79.87 497.92,79.33 500.00,79.00 C502.08,78.67 504.50,78.30 506.50,78.20 C508.50,78.10 509.92,78.27 512.00,78.40 C514.08,78.53 516.83,78.80 519.00,79.00 C521.17,79.20 522.92,79.37 525.00,79.60 C527.08,79.83 529.67,80.17 531.50,80.40 C533.33,80.63 534.33,80.83 536.00,81.00 C537.67,81.17 539.67,81.40 541.50,81.40 C543.33,81.40 545.08,81.15 547.00,81.00 C548.92,80.85 551.27,80.57 553.00,80.50 C554.73,80.43 555.90,80.82 557.40,80.60 C558.90,80.38 560.55,79.85 562.00,79.20 C563.45,78.55 564.68,77.82 566.10,76.70 C567.52,75.58 569.05,73.80 570.50,72.50 C571.95,71.20 573.38,69.90 574.80,68.90 C576.22,67.90 577.55,67.22 579.00,66.50 C580.45,65.78 582.00,65.13 583.50,64.60 C585.00,64.07 586.55,63.65 588.00,63.30 C589.45,62.95 590.78,62.73 592.20,62.50 C593.62,62.27 595.05,62.13 596.50,61.90 C597.95,61.67 599.48,61.50 600.90,61.10 C602.32,60.70 603.55,60.08 605.00,59.50 C606.45,58.92 608.10,58.07 609.60,57.60 C611.10,57.13 612.27,56.90 614.00,56.70 C615.73,56.50 618.42,56.32 620.00,56.40 C621.58,56.48 621.83,56.93 623.50,57.20 C625.17,57.47 627.92,57.87 630.00,58.00 C632.08,58.13 634.00,58.03 636.00,58.00 C638.00,57.97 639.92,57.97 642.00,57.80 C644.08,57.63 646.50,57.23 648.50,57.00 C650.50,56.77 652.33,56.62 654.00,56.40 C655.67,56.18 657.58,55.77 658.50,55.70 C659.42,55.63 659.43,55.62 659.50,56.00 C659.57,56.38 659.07,56.50 658.90,58.00 C658.73,59.50 658.67,62.87 658.50,65.00 C658.33,67.13 658.12,68.52 657.90,70.80 C657.68,73.08 657.48,76.58 657.20,78.70 C656.92,80.82 656.47,82.18 656.20,83.50 C655.93,84.82 655.93,85.47 655.60,86.60 C655.27,87.73 654.73,89.10 654.20,90.30 C653.67,91.50 653.07,92.80 652.40,93.80 C651.73,94.80 650.98,95.57 650.20,96.30 C649.42,97.03 648.63,97.62 647.70,98.20 C646.77,98.78 645.80,99.37 644.60,99.80 C643.40,100.23 642.10,100.47 640.50,100.80 C638.90,101.13 637.17,101.43 635.00,101.80 C632.83,102.17 630.17,102.50 627.50,103.00 C624.83,103.50 621.65,104.15 619.00,104.80 C616.35,105.45 613.93,106.20 611.60,106.90 C609.27,107.60 607.10,108.22 605.00,109.00 C602.90,109.78 600.83,110.80 599.00,111.60 C597.17,112.40 595.58,113.00 594.00,113.80 C592.42,114.60 591.00,115.40 589.50,116.40 C588.00,117.40 586.58,118.48 585.00,119.80 C583.42,121.12 581.92,122.60 580.00,124.30 C578.08,126.00 575.83,127.80 573.50,130.00 C571.17,132.20 568.29,135.30 566.00,137.50 C563.71,139.70 561.58,141.95 559.75,143.20 C557.92,144.45 556.46,144.78 555.00,145.00 C553.54,145.22 552.50,145.08 551.00,144.50 C549.50,143.92 548.08,142.85 546.00,141.50 C543.92,140.15 541.00,138.05 538.50,136.40 C536.00,134.75 533.08,132.62 531.00,131.60 C528.92,130.58 527.67,130.65 526.00,130.30 C524.33,129.95 522.67,129.78 521.00,129.50 C519.33,129.22 517.67,128.98 516.00,128.60 C514.33,128.22 512.83,128.00 511.00,127.20 C509.17,126.40 506.92,124.77 505.00,123.80 C503.08,122.83 502.08,122.13 499.50,121.40 C496.92,120.67 493.25,120.03 489.50,119.40 C485.75,118.77 481.17,117.98 477.00,117.60 C472.83,117.22 467.83,117.03 464.50,117.10 C461.17,117.17 459.08,117.48 457.00,118.00 C454.92,118.52 453.63,119.23 452.00,120.20 C450.37,121.17 448.70,122.50 447.20,123.80 C445.70,125.10 444.28,126.60 443.00,128.00 C441.72,129.40 440.75,130.95 439.50,132.20 C438.25,133.45 436.83,134.37 435.50,135.50 C434.17,136.63 432.75,138.00 431.50,139.00 C430.25,140.00 429.07,140.55 428.00,141.50 C426.93,142.45 426.02,143.45 425.10,144.70 C424.18,145.95 423.28,147.42 422.50,149.00 C421.72,150.58 421.07,152.37 420.40,154.20 C419.73,156.03 419.13,157.78 418.50,160.00 C417.87,162.22 417.40,165.00 416.60,167.50 C415.80,170.00 414.57,172.43 413.70,175.00 C412.83,177.57 412.18,180.27 411.40,182.90 C410.62,185.53 409.75,187.90 409.00,190.80 C408.25,193.70 407.52,197.13 406.90,200.30 C406.28,203.47 405.73,205.68 405.30,209.80 C404.87,213.92 404.67,219.13 404.30,225.00 C403.93,230.87 403.50,239.17 403.10,245.00 C402.70,250.83 402.23,254.77 401.90,260.00 C401.57,265.23 401.23,273.67 401.10,276.40" fill="none" stroke="#ff00ff" stroke-width="3.2" stroke-linejoin="round" stroke-linecap="round"/>
<circle cx="403.07" cy="87.0" r="1.55" fill="#ff00ff"/><circle cx="404.04" cy="88.5" r="1.2" fill="#ff1030"/><circle cx="403.00" cy="90.1" r="1.55" fill="#ff00ff"/><circle cx="403.96" cy="91.7" r="1.2" fill="#ff1030"/><circle cx="402.92" cy="93.3" r="1.55" fill="#ff00ff"/><circle cx="403.87" cy="95.0" r="1.2" fill="#ff1030"/><circle cx="402.83" cy="96.7" r="1.55" fill="#ff00ff"/><circle cx="403.79" cy="98.5" r="1.2" fill="#ff1030"/><circle cx="402.74" cy="100.3" r="1.55" fill="#ff00ff"/><circle cx="403.69" cy="102.3" r="1.2" fill="#ff1030"/><circle cx="402.65" cy="104.2" r="1.55" fill="#ff00ff"/><circle cx="403.60" cy="106.2" r="1.2" fill="#ff1030"/><circle cx="402.54" cy="108.2" r="1.55" fill="#ff00ff"/><circle cx="403.49" cy="110.4" r="1.2" fill="#ff1030"/><circle cx="402.44" cy="112.5" r="1.55" fill="#ff00ff"/><circle cx="403.38" cy="114.8" r="1.2" fill="#ff1030"/><circle cx="402.32" cy="117.1" r="1.55" fill="#ff00ff"/><circle cx="403.26" cy="119.5" r="1.2" fill="#ff1030"/><circle cx="402.20" cy="121.9" r="1.55" fill="#ff00ff"/><circle cx="403.14" cy="124.4" r="1.2" fill="#ff1030"/><circle cx="402.08" cy="126.9" r="1.55" fill="#ff00ff"/><circle cx="403.01" cy="129.6" r="1.2" fill="#ff1030"/><circle cx="402.00" cy="132.3" r="1.55" fill="#ff00ff"/><circle cx="402.97" cy="135.1" r="1.2" fill="#ff1030"/><circle cx="401.95" cy="138.0" r="1.55" fill="#ff00ff"/><circle cx="402.92" cy="141.0" r="1.2" fill="#ff1030"/><circle cx="401.90" cy="144.0" r="1.55" fill="#ff00ff"/><circle cx="402.87" cy="147.2" r="1.2" fill="#ff1030"/><circle cx="401.85" cy="150.4" r="1.55" fill="#ff00ff"/><circle cx="402.82" cy="153.7" r="1.2" fill="#ff1030"/><circle cx="401.79" cy="157.1" r="1.55" fill="#ff00ff"/><circle cx="402.76" cy="160.7" r="1.2" fill="#ff1030"/><circle cx="401.73" cy="164.2" r="1.55" fill="#ff00ff"/><circle cx="402.70" cy="168.0" r="1.2" fill="#ff1030"/><circle cx="401.67" cy="171.8" r="1.55" fill="#ff00ff"/><circle cx="402.64" cy="175.8" r="1.2" fill="#ff1030"/><circle cx="401.60" cy="179.7" r="1.55" fill="#ff00ff"/><circle cx="402.57" cy="184.0" r="1.2" fill="#ff1030"/><circle cx="401.53" cy="188.2" r="1.55" fill="#ff00ff"/><circle cx="402.50" cy="192.6" r="1.2" fill="#ff1030"/><circle cx="401.46" cy="197.1" r="1.55" fill="#ff00ff"/><circle cx="402.42" cy="201.8" r="1.2" fill="#ff1030"/><circle cx="401.38" cy="206.5" r="1.55" fill="#ff00ff"/><circle cx="402.34" cy="211.5" r="1.2" fill="#ff1030"/><circle cx="401.30" cy="216.5" r="1.55" fill="#ff00ff"/><circle cx="402.25" cy="221.8" r="1.2" fill="#ff1030"/><circle cx="401.21" cy="227.1" r="1.55" fill="#ff00ff"/><circle cx="402.16" cy="232.7" r="1.2" fill="#ff1030"/><circle cx="401.12" cy="238.3" r="1.55" fill="#ff00ff"/><circle cx="402.07" cy="244.2" r="1.2" fill="#ff1030"/><circle cx="401.02" cy="250.1" r="1.55" fill="#ff00ff"/><circle cx="401.97" cy="256.4" r="1.2" fill="#ff1030"/><circle cx="400.91" cy="262.6" r="1.55" fill="#ff00ff"/><circle cx="401.86" cy="269.3" r="1.2" fill="#ff1030"/>
<path d="M753.60,251.50 C753.60,249.62 753.52,244.12 753.60,240.20 C753.68,236.28 753.90,232.03 754.10,228.00 C754.30,223.97 754.53,219.17 754.80,216.00 C755.07,212.83 755.33,211.25 755.70,209.00 C756.07,206.75 756.53,204.67 757.00,202.50 C757.47,200.33 758.00,198.08 758.50,196.00 C759.00,193.92 759.35,192.08 760.00,190.00 C760.65,187.92 761.57,185.58 762.40,183.50 C763.23,181.42 764.15,179.25 765.00,177.50 C765.85,175.75 766.67,174.46 767.50,173.00 C768.33,171.54 768.97,170.33 770.00,168.75 C771.03,167.17 772.45,165.12 773.70,163.50 C774.95,161.88 776.45,160.27 777.50,159.00 C778.55,157.73 779.08,156.98 780.00,155.86 C780.92,154.73 781.92,153.44 783.00,152.24 C784.08,151.05 785.33,149.88 786.50,148.69 C787.67,147.51 788.58,146.57 790.00,145.14 C791.42,143.71 793.33,141.68 795.00,140.12 C796.67,138.56 798.33,137.17 800.00,135.79 C801.67,134.41 803.33,133.10 805.00,131.86 C806.67,130.62 808.50,129.37 810.00,128.33 C811.50,127.29 812.28,126.80 814.00,125.63 C815.72,124.45 818.20,122.91 820.30,121.27 C822.40,119.63 824.15,117.79 826.60,115.77 C829.05,113.75 832.60,110.98 835.00,109.14 C837.40,107.30 838.67,106.37 841.00,104.74 C843.33,103.12 846.67,101.05 849.00,99.40 C851.33,97.75 852.92,96.43 855.00,94.87 C857.08,93.30 859.80,91.38 861.50,90.00 C863.20,88.62 864.16,87.52 865.20,86.60 C866.24,85.68 866.87,85.18 867.75,84.50 C868.63,83.82 869.62,82.78 870.50,82.50 C871.38,82.22 872.08,82.68 873.00,82.80 C873.92,82.92 874.83,83.23 876.00,83.20 C877.17,83.17 878.67,82.70 880.00,82.60 C881.33,82.50 882.08,82.42 884.00,82.60 C885.92,82.78 889.17,83.30 891.50,83.70 C893.83,84.10 894.83,84.62 898.00,85.00 C901.17,85.38 906.33,85.67 910.50,86.00 C914.67,86.33 918.83,86.75 923.00,87.00 C927.17,87.25 931.33,87.33 935.50,87.50 C939.67,87.67 943.92,87.92 948.00,88.00 C952.08,88.08 956.17,88.08 960.00,88.00 C963.83,87.92 967.83,87.70 971.00,87.50 C974.17,87.30 976.67,87.17 979.00,86.80 C981.33,86.43 982.83,85.97 985.00,85.30 C987.17,84.63 990.00,83.62 992.00,82.80 C994.00,81.98 995.62,81.20 997.00,80.40 C998.38,79.60 999.75,77.90 1000.30,78.00 C1000.85,78.10 1000.33,79.00 1000.30,81.00 C1000.27,83.00 1000.22,86.83 1000.10,90.00 C999.98,93.17 999.88,96.67 999.60,100.00 C999.32,103.33 998.90,106.92 998.40,110.00 C997.90,113.08 997.27,116.00 996.60,118.50 C995.93,121.00 995.15,123.08 994.40,125.00 C993.65,126.92 993.00,128.45 992.10,130.00 C991.20,131.55 990.02,133.07 989.00,134.30 C987.98,135.53 987.17,136.32 986.00,137.40 C984.83,138.48 983.25,139.77 982.00,140.80 C980.75,141.83 980.17,142.58 978.50,143.60 C976.83,144.62 974.08,145.93 972.00,146.90 C969.92,147.87 968.00,148.62 966.00,149.40 C964.00,150.18 962.08,150.88 960.00,151.60 C957.92,152.32 955.67,152.97 953.50,153.70 C951.33,154.43 949.08,155.26 947.00,156.00 C944.92,156.74 943.50,157.27 941.00,158.16 C938.50,159.05 934.83,160.25 932.00,161.32 C929.17,162.39 926.33,163.52 924.00,164.57 C921.67,165.63 920.00,166.56 918.00,167.65 C916.00,168.74 914.00,169.95 912.00,171.12 C910.00,172.30 907.67,173.69 906.00,174.69 C904.33,175.69 903.50,176.11 902.00,177.10 C900.50,178.09 898.67,179.33 897.00,180.60 C895.33,181.87 893.58,183.10 892.00,184.70 C890.42,186.30 889.17,188.23 887.50,190.22 C885.83,192.22 883.67,194.53 882.00,196.65 C880.33,198.77 879.17,200.92 877.50,202.94 C875.83,204.97 873.67,207.04 872.00,208.79 C870.33,210.54 869.17,211.84 867.50,213.43 C865.83,215.03 863.67,216.92 862.00,218.36 C860.33,219.80 859.17,220.92 857.50,222.10 C855.83,223.28 853.67,224.61 852.00,225.43 C850.33,226.24 849.33,226.59 847.50,227.00 C845.67,227.41 843.08,227.63 841.00,227.88 C838.92,228.13 837.17,228.18 835.00,228.50 C832.83,228.82 830.08,229.38 828.00,229.80 C825.92,230.22 824.50,230.47 822.50,231.00 C820.50,231.53 818.08,232.37 816.00,233.00 C813.92,233.63 812.25,234.05 810.00,234.80 C807.75,235.55 804.83,236.67 802.50,237.50 C800.17,238.33 798.08,239.12 796.00,239.80 C793.92,240.48 792.50,240.93 790.00,241.60 C787.50,242.27 783.92,243.13 781.00,243.80 C778.08,244.47 775.08,245.10 772.50,245.60 C769.92,246.10 767.58,246.33 765.50,246.80 C763.42,247.27 761.58,247.82 760.00,248.40 C758.42,248.98 757.07,249.78 756.00,250.30 C754.93,250.82 754.00,251.30 753.60,251.50" fill="none" stroke="#000000" stroke-width="1.5" stroke-linejoin="round" stroke-linecap="round"/>
<path d="M752.80,239.00 C752.82,237.50 752.87,232.83 752.90,230.00 C752.93,227.17 752.95,224.67 753.00,222.00 C753.05,219.33 753.12,216.67 753.20,214.00 C753.28,211.33 753.35,208.50 753.50,206.00 C753.65,203.50 753.85,201.17 754.10,199.00 C754.35,196.83 754.62,195.08 755.00,193.00 C755.38,190.92 755.83,188.67 756.40,186.50 C756.97,184.33 757.65,182.25 758.40,180.00 C759.15,177.75 759.98,175.33 760.90,173.00 C761.82,170.67 762.90,168.22 763.90,166.00 C764.90,163.78 765.82,161.73 766.90,159.70 C767.98,157.67 769.18,155.78 770.40,153.80 C771.62,151.82 772.95,149.70 774.20,147.80 C775.45,145.90 776.62,144.20 777.90,142.40 C779.18,140.60 780.48,138.90 781.90,137.00 C783.32,135.10 784.98,132.87 786.40,131.00 C787.82,129.13 788.97,127.37 790.40,125.80 C791.83,124.23 793.48,122.93 795.00,121.60 C796.52,120.27 798.00,118.93 799.50,117.80 C801.00,116.67 802.63,115.65 804.00,114.80 C805.37,113.95 806.03,113.72 807.70,112.70 C809.37,111.68 811.90,109.95 814.00,108.70 C816.10,107.45 818.30,106.32 820.30,105.20 C822.30,104.08 823.72,103.37 826.00,102.00 C828.28,100.63 831.50,98.58 834.00,97.00 C836.50,95.42 838.50,94.03 841.00,92.50 C843.50,90.97 846.92,89.05 849.00,87.80 C851.08,86.55 852.07,85.97 853.50,85.00 C854.93,84.03 856.27,82.93 857.60,82.00 C858.93,81.07 860.23,80.17 861.50,79.40 C862.77,78.63 863.95,78.00 865.20,77.40 C866.45,76.80 867.78,76.13 869.00,75.80 C870.22,75.47 871.33,75.45 872.50,75.40 C873.67,75.35 874.75,75.37 876.00,75.50 C877.25,75.63 878.67,75.82 880.00,76.20 C881.33,76.58 882.08,77.18 884.00,77.80 C885.92,78.42 889.17,79.17 891.50,79.90 C893.83,80.63 895.92,81.58 898.00,82.20 C900.08,82.82 901.92,83.17 904.00,83.60 C906.08,84.03 908.33,84.40 910.50,84.80 C912.67,85.20 914.92,85.67 917.00,86.00 C919.08,86.33 921.00,86.57 923.00,86.80 C925.00,87.03 926.92,87.23 929.00,87.40 C931.08,87.57 932.33,87.68 935.50,87.80 C938.67,87.92 943.92,88.07 948.00,88.10 C952.08,88.13 956.10,88.12 960.00,88.00 C963.90,87.88 968.23,87.60 971.40,87.40 C974.57,87.20 976.73,87.10 979.00,86.80 C981.27,86.50 983.17,86.13 985.00,85.60 C986.83,85.07 988.33,84.32 990.00,83.60 C991.67,82.88 993.33,82.03 995.00,81.30 C996.67,80.57 999.15,79.17 1000.00,79.20 C1000.85,79.23 1000.10,79.70 1000.10,81.50 C1000.10,83.30 1000.08,87.25 1000.00,90.00 C999.92,92.75 999.83,95.00 999.60,98.00 C999.37,101.00 999.03,104.93 998.60,108.00 C998.17,111.07 997.60,113.92 997.00,116.40 C996.40,118.88 995.77,120.70 995.00,122.90 C994.23,125.10 993.40,127.65 992.40,129.60 C991.40,131.55 990.07,133.22 989.00,134.60 C987.93,135.98 987.17,136.82 986.00,137.90 C984.83,138.98 983.25,140.15 982.00,141.10 C980.75,142.05 980.17,142.65 978.50,143.60 C976.83,144.55 974.08,145.82 972.00,146.80 C969.92,147.78 968.00,148.67 966.00,149.50 C964.00,150.33 962.08,150.99 960.00,151.80 C957.92,152.61 955.67,153.51 953.50,154.34 C951.33,155.18 949.08,155.99 947.00,156.79 C944.92,157.59 943.50,158.27 941.00,159.14 C938.50,160.01 934.50,161.18 932.00,162.02 C929.50,162.86 928.08,163.43 926.00,164.17 C923.92,164.91 921.83,165.63 919.50,166.48 C917.17,167.33 914.50,168.25 912.00,169.29 C909.50,170.33 906.83,171.65 904.50,172.70 C902.17,173.75 900.08,174.41 898.00,175.60 C895.92,176.79 893.83,178.41 892.00,179.83 C890.17,181.24 888.67,182.64 887.00,184.10 C885.33,185.56 883.58,187.00 882.00,188.60 C880.42,190.20 879.17,191.90 877.50,193.71 C875.83,195.53 873.67,197.83 872.00,199.47 C870.33,201.12 869.17,202.19 867.50,203.56 C865.83,204.94 863.67,206.62 862.00,207.74 C860.33,208.86 859.17,209.46 857.50,210.30 C855.83,211.14 853.67,212.13 852.00,212.81 C850.33,213.48 849.33,213.91 847.50,214.37 C845.67,214.82 843.08,215.18 841.00,215.52 C838.92,215.86 837.17,216.02 835.00,216.40 C832.83,216.78 830.08,217.37 828.00,217.80 C825.92,218.23 824.50,218.57 822.50,219.00 C820.50,219.43 818.08,219.92 816.00,220.40 C813.92,220.88 811.83,221.38 810.00,221.90 C808.17,222.42 807.00,222.88 805.00,223.50 C803.00,224.12 800.50,224.92 798.00,225.60 C795.50,226.28 792.83,226.92 790.00,227.60 C787.17,228.28 783.92,229.03 781.00,229.70 C778.08,230.37 775.08,230.93 772.50,231.60 C769.92,232.27 767.58,233.03 765.50,233.70 C763.42,234.37 761.37,235.07 760.00,235.60 C758.63,236.13 758.22,236.45 757.30,236.90 C756.38,237.35 755.25,237.95 754.50,238.30 C753.75,238.65 753.08,238.88 752.80,239.00" fill="none" stroke="#ff0000" stroke-width="1.5" stroke-linejoin="round" stroke-linecap="round"/>
<path d="M751.90,238.10 C751.88,236.75 751.80,232.68 751.80,230.00 C751.80,227.32 751.85,224.67 751.90,222.00 C751.95,219.33 752.02,216.67 752.10,214.00 C752.18,211.33 752.25,208.50 752.40,206.00 C752.55,203.50 752.75,201.17 753.00,199.00 C753.25,196.83 753.52,195.08 753.90,193.00 C754.28,190.92 754.73,188.67 755.30,186.50 C755.87,184.33 756.55,182.25 757.30,180.00 C758.05,177.75 758.88,175.33 759.80,173.00 C760.72,170.67 761.80,168.25 762.80,166.00 C763.80,163.75 764.72,161.57 765.80,159.50 C766.88,157.43 768.08,155.60 769.30,153.60 C770.52,151.60 771.85,149.43 773.10,147.50 C774.35,145.57 775.52,143.83 776.80,142.00 C778.08,140.17 779.38,138.42 780.80,136.50 C782.22,134.58 783.77,132.32 785.30,130.50 C786.83,128.68 788.80,126.88 790.00,125.55 C791.20,124.22 791.33,123.78 792.50,122.55 C793.67,121.32 795.33,119.58 797.00,118.15 C798.67,116.72 800.83,115.13 802.50,113.95 C804.17,112.77 805.33,112.12 807.00,111.05 C808.67,109.98 810.50,108.80 812.50,107.55 C814.50,106.30 816.75,104.95 819.00,103.55 C821.25,102.15 823.50,100.72 826.00,99.15 C828.50,97.58 831.50,95.73 834.00,94.15 C836.50,92.57 838.50,91.18 841.00,89.65 C843.50,88.12 846.92,86.17 849.00,84.95 C851.08,83.73 852.07,83.25 853.50,82.35 C854.93,81.45 856.27,80.43 857.60,79.55 C858.93,78.67 860.23,77.82 861.50,77.05 C862.77,76.28 863.83,75.53 865.20,74.95 C866.57,74.37 868.07,73.82 869.70,73.55 C871.33,73.28 873.28,73.32 875.00,73.35 C876.72,73.38 878.50,73.50 880.00,73.75 C881.50,74.00 882.75,74.47 884.00,74.85 C885.25,75.23 886.25,75.63 887.50,76.05 C888.75,76.47 889.75,76.75 891.50,77.35 C893.25,77.95 895.92,79.00 898.00,79.65 C900.08,80.30 901.92,80.80 904.00,81.25 C906.08,81.70 908.33,82.02 910.50,82.35 C912.67,82.68 914.92,82.98 917.00,83.25 C919.08,83.52 921.00,83.72 923.00,83.95 C925.00,84.18 926.92,84.45 929.00,84.65 C931.08,84.85 932.33,84.95 935.50,85.15 C938.67,85.35 943.92,85.73 948.00,85.85 C952.08,85.97 956.10,85.92 960.00,85.85 C963.90,85.78 967.60,85.75 971.40,85.45 C975.20,85.15 980.03,84.48 982.80,84.05 C985.57,83.62 986.42,83.27 988.00,82.85 C989.58,82.43 990.80,82.03 992.30,81.55 C993.80,81.07 995.72,80.38 997.00,79.95 C998.28,79.52 999.48,78.72 1000.00,78.95 C1000.52,79.18 1000.10,79.48 1000.10,81.35 C1000.10,83.22 1000.08,87.35 1000.00,90.15 C999.92,92.95 999.83,95.15 999.60,98.15 C999.37,101.15 999.03,105.15 998.60,108.15 C998.17,111.15 997.60,113.73 997.00,116.15 C996.40,118.57 995.77,120.48 995.00,122.65 C994.23,124.82 993.40,127.23 992.40,129.15 C991.40,131.07 990.07,132.77 989.00,134.15 C987.93,135.53 987.17,136.37 986.00,137.45 C984.83,138.53 983.25,139.68 982.00,140.65 C980.75,141.62 980.17,142.27 978.50,143.25 C976.83,144.23 974.08,145.55 972.00,146.55 C969.92,147.55 968.00,148.42 966.00,149.25 C964.00,150.08 962.08,150.74 960.00,151.55 C957.92,152.36 955.67,153.26 953.50,154.09 C951.33,154.93 949.08,155.74 947.00,156.54 C944.92,157.34 943.50,158.00 941.00,158.89 C938.50,159.78 934.50,161.00 932.00,161.87 C929.50,162.74 928.08,163.36 926.00,164.12 C923.92,164.88 921.83,165.59 919.50,166.43 C917.17,167.26 914.50,168.12 912.00,169.14 C909.50,170.16 906.83,171.50 904.50,172.55 C902.17,173.60 900.08,174.26 898.00,175.45 C895.92,176.64 893.83,178.26 892.00,179.68 C890.17,181.09 888.67,182.49 887.00,183.95 C885.33,185.41 883.58,186.85 882.00,188.45 C880.42,190.05 879.17,191.75 877.50,193.56 C875.83,195.38 873.67,197.68 872.00,199.33 C870.33,200.97 869.17,202.03 867.50,203.41 C865.83,204.79 863.67,206.47 862.00,207.59 C860.33,208.71 859.17,209.31 857.50,210.15 C855.83,210.99 853.67,211.98 852.00,212.66 C850.33,213.33 849.33,213.76 847.50,214.22 C845.67,214.67 843.08,215.03 841.00,215.37 C838.92,215.71 837.17,215.89 835.00,216.25 C832.83,216.61 830.08,217.13 828.00,217.55 C825.92,217.97 824.50,218.33 822.50,218.75 C820.50,219.17 818.08,219.60 816.00,220.05 C813.92,220.50 811.83,220.95 810.00,221.45 C808.17,221.95 807.00,222.45 805.00,223.05 C803.00,223.65 800.50,224.40 798.00,225.05 C795.50,225.70 792.83,226.30 790.00,226.95 C787.17,227.60 783.92,228.33 781.00,228.95 C778.08,229.57 775.08,230.03 772.50,230.65 C769.92,231.27 767.58,232.02 765.50,232.65 C763.42,233.28 761.37,233.90 760.00,234.45 C758.63,235.00 758.22,235.47 757.30,235.95 C756.38,236.43 755.28,236.97 754.50,237.35 C753.72,237.73 752.92,238.10 752.60,238.25" fill="none" stroke="#0000ff" stroke-width="1.5" stroke-linejoin="round" stroke-linecap="round"/>
<path d="M752.60,238.10 C752.58,236.75 752.50,232.68 752.50,230.00 C752.50,227.32 752.55,224.67 752.60,222.00 C752.65,219.33 752.72,216.67 752.80,214.00 C752.88,211.33 752.95,208.50 753.10,206.00 C753.25,203.50 753.45,201.17 753.70,199.00 C753.95,196.83 754.22,195.08 754.60,193.00 C754.98,190.92 755.43,188.67 756.00,186.50 C756.57,184.33 757.25,182.25 758.00,180.00 C758.75,177.75 759.58,175.33 760.50,173.00 C761.42,170.67 762.50,168.25 763.50,166.00 C764.50,163.75 765.42,161.57 766.50,159.50 C767.58,157.43 768.78,155.60 770.00,153.60 C771.22,151.60 772.55,149.43 773.80,147.50 C775.05,145.57 776.22,143.83 777.50,142.00 C778.78,140.17 780.08,138.42 781.50,136.50 C782.92,134.58 784.58,132.38 786.00,130.50 C787.42,128.62 788.92,126.58 790.00,125.20 C791.08,123.82 791.33,123.43 792.50,122.20 C793.67,120.97 795.33,119.23 797.00,117.80 C798.67,116.37 800.83,114.78 802.50,113.60 C804.17,112.42 805.33,111.77 807.00,110.70 C808.67,109.63 810.50,108.45 812.50,107.20 C814.50,105.95 816.75,104.60 819.00,103.20 C821.25,101.80 823.50,100.37 826.00,98.80 C828.50,97.23 831.50,95.38 834.00,93.80 C836.50,92.22 838.50,90.83 841.00,89.30 C843.50,87.77 846.92,85.82 849.00,84.60 C851.08,83.38 852.07,82.90 853.50,82.00 C854.93,81.10 856.27,80.08 857.60,79.20 C858.93,78.32 860.23,77.47 861.50,76.70 C862.77,75.93 863.83,75.18 865.20,74.60 C866.57,74.02 868.07,73.47 869.70,73.20 C871.33,72.93 873.28,72.97 875.00,73.00 C876.72,73.03 878.50,73.15 880.00,73.40 C881.50,73.65 882.75,74.12 884.00,74.50 C885.25,74.88 886.25,75.28 887.50,75.70 C888.75,76.12 889.75,76.40 891.50,77.00 C893.25,77.60 895.92,78.65 898.00,79.30 C900.08,79.95 901.92,80.45 904.00,80.90 C906.08,81.35 908.33,81.67 910.50,82.00 C912.67,82.33 914.92,82.63 917.00,82.90 C919.08,83.17 921.00,83.37 923.00,83.60 C925.00,83.83 926.92,84.10 929.00,84.30 C931.08,84.50 932.33,84.60 935.50,84.80 C938.67,85.00 943.92,85.38 948.00,85.50 C952.08,85.62 956.10,85.57 960.00,85.50 C963.90,85.43 967.60,85.40 971.40,85.10 C975.20,84.80 980.03,84.13 982.80,83.70 C985.57,83.27 986.42,82.92 988.00,82.50 C989.58,82.08 990.80,81.68 992.30,81.20 C993.80,80.72 995.72,80.03 997.00,79.60 C998.28,79.17 999.48,78.37 1000.00,78.60 C1000.52,78.83 1000.10,79.10 1000.10,81.00 C1000.10,82.90 1000.08,87.17 1000.00,90.00 C999.92,92.83 999.83,95.00 999.60,98.00 C999.37,101.00 999.03,105.00 998.60,108.00 C998.17,111.00 997.60,113.58 997.00,116.00 C996.40,118.42 995.77,120.33 995.00,122.50 C994.23,124.67 993.40,127.08 992.40,129.00 C991.40,130.92 990.07,132.62 989.00,134.00 C987.93,135.38 987.17,136.22 986.00,137.30 C984.83,138.38 983.25,139.53 982.00,140.50 C980.75,141.47 980.17,142.12 978.50,143.10 C976.83,144.08 974.08,145.40 972.00,146.40 C969.92,147.40 968.00,148.27 966.00,149.10 C964.00,149.93 962.08,150.59 960.00,151.40 C957.92,152.21 955.67,153.11 953.50,153.94 C951.33,154.78 949.08,155.59 947.00,156.39 C944.92,157.19 943.50,157.85 941.00,158.74 C938.50,159.63 934.50,160.85 932.00,161.72 C929.50,162.59 928.08,163.21 926.00,163.97 C923.92,164.73 921.83,165.44 919.50,166.28 C917.17,167.11 914.50,167.97 912.00,168.99 C909.50,170.01 906.83,171.35 904.50,172.40 C902.17,173.45 900.08,174.11 898.00,175.30 C895.92,176.49 893.83,178.11 892.00,179.53 C890.17,180.94 888.67,182.34 887.00,183.80 C885.33,185.26 883.58,186.70 882.00,188.30 C880.42,189.90 879.17,191.60 877.50,193.41 C875.83,195.22 873.67,197.53 872.00,199.18 C870.33,200.82 869.17,201.88 867.50,203.26 C865.83,204.64 863.67,206.32 862.00,207.44 C860.33,208.56 859.17,209.16 857.50,210.00 C855.83,210.84 853.67,211.83 852.00,212.51 C850.33,213.18 849.33,213.61 847.50,214.07 C845.67,214.52 843.08,214.88 841.00,215.22 C838.92,215.56 837.17,215.74 835.00,216.10 C832.83,216.46 830.08,216.98 828.00,217.40 C825.92,217.82 824.50,218.18 822.50,218.60 C820.50,219.02 818.08,219.45 816.00,219.90 C813.92,220.35 811.83,220.80 810.00,221.30 C808.17,221.80 807.00,222.30 805.00,222.90 C803.00,223.50 800.50,224.25 798.00,224.90 C795.50,225.55 792.83,226.15 790.00,226.80 C787.17,227.45 783.92,228.18 781.00,228.80 C778.08,229.42 775.08,229.88 772.50,230.50 C769.92,231.12 767.58,231.87 765.50,232.50 C763.42,233.13 761.37,233.75 760.00,234.30 C758.63,234.85 758.22,235.32 757.30,235.80 C756.38,236.28 755.28,236.82 754.50,237.20 C753.72,237.58 752.92,237.95 752.60,238.10" fill="none" stroke="#00a050" stroke-width="1.5" stroke-linejoin="round" stroke-linecap="round"/>
<line x1="250" y1="218.60" x2="270.6" y2="218.60" stroke="#1a1a1a" stroke-width="1.6"/>
<text x="276.1" y="222.20" class="t">1 cycle</text>
<line x1="250" y1="230.90" x2="270.6" y2="230.90" stroke="#e02020" stroke-width="1.6"/>
<text x="276.1" y="234.50" class="t">1000 cycles</text>
<line x1="250" y1="243.20" x2="270.6" y2="243.20" stroke="#2020d0" stroke-width="1.6"/>
<text x="276.1" y="246.80" class="t">5000 cycles</text>
<line x1="588.3" y1="218.60" x2="609.2" y2="218.60" stroke="#1a1a1a" stroke-width="1.6"/>
<text x="614.5" y="222.20" class="t">1 cycle</text>
<line x1="588.3" y1="230.90" x2="609.2" y2="230.90" stroke="#e02020" stroke-width="1.6"/>
<text x="614.5" y="234.50" class="t">1000 cycles</text>
<line x1="588.3" y1="243.20" x2="609.2" y2="243.20" stroke="#ff00ff" stroke-width="1.6"/>
<text x="614.5" y="246.80" class="t">4000 cycles</text>
<line x1="919.1" y1="218.60" x2="940" y2="218.60" stroke="#1a1a1a" stroke-width="1.6"/>
<text x="945.2" y="222.20" class="t">1 cycle</text>
<line x1="919.1" y1="230.90" x2="940" y2="230.90" stroke="#e02020" stroke-width="1.6"/>
<text x="945.2" y="234.50" class="t">1000 cycles</text>
<line x1="919.1" y1="243.20" x2="940" y2="243.20" stroke="#00a050" stroke-width="1.6"/>
<text x="945.2" y="246.80" class="t">3000 cycles</text>
<line x1="919.1" y1="255.50" x2="940" y2="255.50" stroke="#2020d0" stroke-width="1.6"/>
<text x="945.2" y="259.10" class="t">5000 cycles</text>
<text x="197.9" y="308.6" text-anchor="middle" class="t">Voltage / V vs AgAgCl</text>
<text x="536.0" y="308.6" text-anchor="middle" class="t">Voltage / V vs AgAgCl</text>
<text x="879.0" y="308.6" text-anchor="middle" class="t">Voltage / V vs AgAgCl</text>
<text transform="translate(14.2,203.3) rotate(-90)" class="t">Current density / mA cm<tspan class="s" dy="-4">-2</tspan></text>
<text transform="translate(352.1,203.3) rotate(-90)" class="t">Current density / mA cm<tspan class="s" dy="-4">-2</tspan></text>
<text transform="translate(691.3,205.4) rotate(-90)" class="t">Current density / mA cm<tspan class="s" dy="-4">-2</tspan></text>
<text x="169.1" y="24.7" class="t">Pt/C-Mn<tspan class="u" dy="2">x</tspan><tspan dy="-2" dx="0.4">O</tspan><tspan class="u" dy="2" dx="0.8">1+x</tspan></text>
<text x="507.6" y="24.9" class="t">Pt/C</text>
<text x="836.9" y="24.5" class="t">Mn<tspan class="u" dy="2">x</tspan><tspan dy="-2" dx="0.4">O</tspan><tspan class="u" dy="2" dx="0.8">1+x</tspan></text>
<text x="317.3" y="18.6" class="t">A</text>
<text x="659" y="18.8" class="t">B</text>
<text x="997.7" y="18.8" class="t">C</text>
</svg>
</body></html>
